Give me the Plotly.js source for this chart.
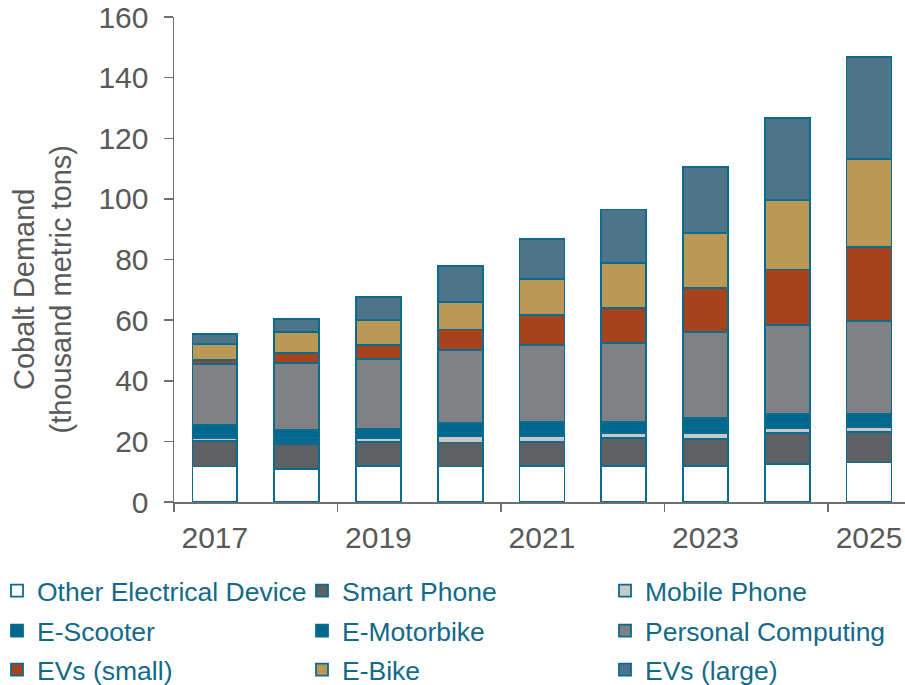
<!DOCTYPE html>
<html>
<head>
<meta charset="utf-8">
<script src="https://cdn.plot.ly/plotly-3.0.1.min.js"></script>
<style>
html,body{margin:0;padding:0;background:#fff;}
#chart{width:905px;height:685px;}
</style>
</head>
<body>
<div id="chart"></div>
<script>
var years = ['2017','2018','2019','2020','2021','2022','2023','2024','2025'];
var labelYears = ['2017','2019','2021','2023','2025'];
var otherElectrical = [11.7, 10.9, 11.9, 11.7, 12.0, 12.0, 11.9, 12.5, 13.0];
var smartPhone      = [8.3, 8.2, 8.0, 7.9, 7.9, 9.1, 9.0, 10.2, 10.0];
var mobilePhone     = [1.1, 0.8, 1.3, 2.0, 2.0, 1.6, 1.8, 1.7, 1.7];
var eScooter        = [1.2, 1.1, 1.0, 1.2, 1.3, 1.2, 1.6, 1.3, 1.3];
var eMotorbike      = [3.0, 2.8, 2.0, 3.2, 3.3, 2.4, 3.6, 3.3, 3.0];
var personalComp    = [20.3, 22.0, 23.0, 24.2, 25.2, 26.2, 28.1, 29.3, 30.8];
var evsSmall        = [1.3, 3.4, 4.7, 6.7, 9.9, 11.5, 14.6, 18.4, 24.3];
var eBike           = [5.3, 6.8, 8.1, 9.1, 12.1, 14.9, 18.2, 22.9, 29.0];
var evsLarge        = [3.3, 4.5, 7.5, 11.8, 13.1, 17.6, 21.7, 27.2, 33.6];

var seriesNames  = ['Other Electrical Device','Smart Phone','Mobile Phone','E-Scooter','E-Motorbike','Personal Computing','EVs (small)','E-Bike','EVs (large)'];
var seriesValues = [otherElectrical, smartPhone, mobilePhone, eScooter, eMotorbike, personalComp, evsSmall, eBike, evsLarge];
var seriesColors = ['#ffffff','#5f6062','#c9cac8','#00688f','#00688f','#808184','#a6421c','#bb9955','#4d7489'];
var yTitle = 'Cobalt Demand<br>(thousand metric tons)';

var xIdx = years.map(function(_, i){ return i; });
var outline = '#0a6b8f';
var legendIds = ['legend','legend2','legend3','legend4','legend5','legend6','legend7','legend8','legend9'];

var traces = seriesNames.map(function(name, k){
  return {
    type: 'bar',
    name: name,
    x: xIdx,
    y: seriesValues[k],
    width: 0.55,
    legend: legendIds[k],
    marker: {color: seriesColors[k], line: {color: outline, width: 1.8}},
    hoverinfo: 'name+y'
  };
});
traces.push({
  type: 'scatter', x: [-0.5, 8.44], y: [0, 0], xaxis: 'x2', mode: 'none',
  showlegend: false, hoverinfo: 'skip'
});

var labelVals = labelYears.map(function(y){ return years.indexOf(y); });
var boundaryVals = labelVals.map(function(v){ return v - 0.5; });

var axisGray = '#707070';
var textGray = '#595959';

var W = 905, H = 685, ML = 174, MT = 17, MB = 183;
var plotW = W - ML, plotH = H - MT - MB;

var layout = {
  width: W, height: H,
  margin: {l: ML, r: 0, t: MT, b: MB, autoexpand: false},
  paper_bgcolor: '#ffffff', plot_bgcolor: '#ffffff',
  barmode: 'stack',
  font: {family: '"Liberation Sans", Arial, sans-serif', color: textGray},
  showlegend: true,
  xaxis: {
    range: [-0.5, 8.44], tickmode: 'array', tickvals: labelVals, ticktext: labelYears,
    ticks: '', showgrid: false, zeroline: false, ticklabelstandoff: 8,
    showline: true, linecolor: axisGray, linewidth: 1.5, tickangle: 0,
    tickfont: {size: 30, color: textGray}, fixedrange: true
  },
  xaxis2: {
    overlaying: 'x', anchor: 'y', side: 'bottom',
    range: [-0.5, 8.44], tickmode: 'array', tickvals: boundaryVals,
    ticks: 'outside', ticklen: 9, tickwidth: 1.5, tickcolor: axisGray,
    showticklabels: false, showgrid: false, zeroline: false, showline: false
  },
  yaxis: {
    range: [0, 160], dtick: 20, tick0: 0,
    ticks: 'outside', ticklen: 9, tickwidth: 1.5, tickcolor: axisGray,
    showline: true, linecolor: axisGray, linewidth: 1.5,
    showgrid: false, zeroline: false, ticklabelstandoff: 9,
    tickfont: {size: 30, color: textGray}
  },
  annotations: [{
    text: yTitle, textangle: -90, showarrow: false,
    xref: 'paper', yref: 'paper',
    x: (42.5 - ML) / plotW, y: (MT + plotH - 289) / plotH,
    xanchor: 'center', yanchor: 'middle',
    font: {size: 29, color: textGray}
  }]
};

// legend grid: 3 columns x 3 rows (pixel positions converted to paper coords)
var colX = [-3, 302, 605];
var rowTop = [567, 607, 646];
legendIds.forEach(function(id, k){
  var col = k % 3, row = Math.floor(k / 3);
  layout[id] = {
    orientation: 'v',
    xref: 'paper', yref: 'paper',
    x: (colX[col] - ML) / plotW, y: (MT + plotH - rowTop[row]) / plotH,
    xanchor: 'left', yanchor: 'top',
    font: {size: 26.5, color: '#12698a'},
    bgcolor: 'rgba(0,0,0,0)'
  };
});

Plotly.newPlot('chart', traces, layout, {displayModeBar: false, staticPlot: true});
</script>
</body>
</html>
